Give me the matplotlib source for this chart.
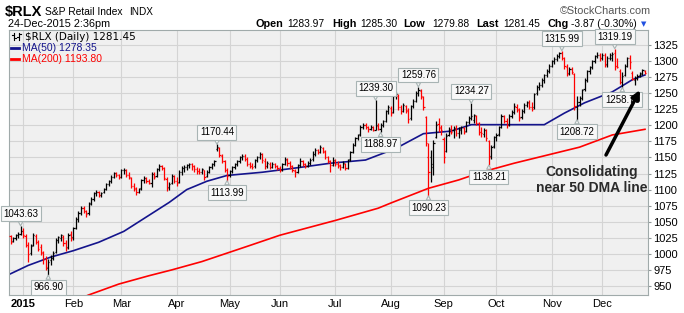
import numpy as np
import pandas as pd
import matplotlib
matplotlib.use('Agg')
import matplotlib.pyplot as plt

# trading days on the chart: 24-Dec-2014 .. 24-Dec-2015
HOLIDAYS = ['2014-12-25', '2015-01-01', '2015-01-19', '2015-02-16', '2015-04-03',
            '2015-05-25', '2015-07-03', '2015-09-07', '2015-11-26']
dates = pd.bdate_range('2014-12-24', '2015-12-24')
dates = dates[~dates.isin(pd.to_datetime(HOLIDAYS))]

# daily OHLC, grouped by month
opens = [
    1028, 1020, 1025, 1029, 1031,
    1036, 1028, 1014, 1002, 1014, 1028, 1019, 1010, 1001, 992, 978, 990, 994, 1003, 1022, 1025, 1026, 1017, 1010, 1031,
    1026, 1041, 1054, 1064, 1072, 1066, 1063, 1079, 1086, 1094, 1096, 1092, 1096, 1101, 1108, 1113, 1120, 1126, 1122,
    1120, 1130, 1130, 1123, 1118, 1106, 1101, 1097, 1102, 1115, 1118, 1114, 1110, 1125, 1121, 1132, 1137, 1133, 1117, 1104, 1110, 1121,
    1114, 1112, 1128, 1133, 1135, 1138, 1140, 1136, 1132, 1129, 1127, 1130, 1121, 1128, 1135, 1140, 1163, 1164, 1153, 1144, 1130,
    1122, 1129, 1135, 1140, 1144, 1150, 1152, 1147, 1140, 1137, 1136, 1146, 1151, 1155, 1145, 1137, 1140, 1135, 1140, 1137,
    1133, 1131, 1140, 1146, 1141, 1136, 1129, 1128, 1138, 1144, 1140, 1137, 1141, 1147, 1156, 1161, 1159, 1165, 1159, 1150, 1144, 1139,
    1145, 1140, 1137, 1135, 1140, 1134, 1147, 1159, 1170, 1180, 1186, 1198, 1200, 1197, 1194, 1197, 1193, 1199, 1195, 1201, 1207, 1222,
    1227, 1221, 1245, 1246, 1228, 1223, 1230, 1223, 1211, 1230, 1238, 1250, 1254, 1244, 1213, 1150, 1150, 1140, 1182, 1202, 1196,
    1178, 1160, 1185, 1190, 1192, 1195, 1188, 1193, 1196, 1191, 1205, 1212, 1209, 1214, 1203, 1190, 1187, 1193, 1175, 1152, 1168,
    1182, 1186, 1198, 1214, 1207, 1201, 1215, 1221, 1229, 1224, 1213, 1222, 1232, 1235, 1228, 1228, 1250, 1260, 1262, 1270, 1278, 1285,
    1292, 1300, 1303, 1308, 1312, 1304, 1291, 1281, 1288, 1280, 1228, 1237, 1243, 1256, 1271, 1284, 1290, 1300, 1308, 1310,
    1305, 1310, 1295, 1305, 1305, 1312, 1293, 1285, 1268, 1278, 1292, 1305, 1282, 1271, 1274, 1278, 1281, 1283.97,
]
highs = [
    1030, 1027, 1031, 1034, 1043.63,
    1040, 1031, 1018, 1015, 1032, 1031, 1022, 1016, 1005, 996, 992, 998, 1004, 1024, 1028, 1031, 1029, 1021, 1032, 1036,
    1042, 1057, 1066, 1074, 1075, 1069, 1080, 1088, 1096, 1099, 1098, 1097, 1103, 1110, 1115, 1122, 1128, 1128, 1125,
    1132, 1134, 1132, 1127, 1120, 1110, 1104, 1103, 1116, 1121, 1120, 1117, 1128, 1127, 1134, 1140, 1139, 1135, 1120, 1112, 1124, 1123,
    1120, 1130, 1136, 1138, 1140, 1142, 1141, 1139, 1135, 1133, 1134, 1131, 1130, 1137, 1142, 1146, 1170.44, 1166, 1156, 1146, 1133,
    1131, 1137, 1142, 1146, 1152, 1156, 1155, 1150, 1143, 1141, 1148, 1153, 1159, 1157, 1149, 1144, 1143, 1143, 1142, 1139,
    1136, 1142, 1151, 1149, 1144, 1138, 1132, 1140, 1149, 1146, 1142, 1144, 1149, 1160, 1164, 1163, 1170, 1167, 1162, 1153, 1146, 1150,
    1148, 1145, 1140, 1144, 1142, 1148, 1160, 1172, 1182, 1187, 1200, 1204, 1203, 1199, 1200, 1199, 1239.30, 1203, 1203, 1208, 1224, 1232,
    1230, 1247, 1252, 1248, 1232, 1234, 1232, 1227, 1232, 1241, 1253, 1259.76, 1256, 1246, 1215, 1172, 1161, 1177, 1206, 1211, 1200,
    1182, 1188, 1198, 1200, 1199, 1200, 1197, 1199, 1198, 1207, 1214, 1234.27, 1217, 1216, 1205, 1198, 1196, 1195, 1177, 1170, 1184,
    1188, 1199, 1217, 1216, 1212, 1217, 1224, 1235, 1233, 1227, 1225, 1235, 1238, 1240, 1236, 1250, 1263, 1268, 1273, 1280, 1288, 1295,
    1302, 1306, 1311, 1314, 1315.99, 1307, 1295, 1291, 1290, 1282, 1245, 1246, 1257, 1273, 1286, 1293, 1302, 1310, 1314, 1312,
    1313, 1312, 1308, 1313, 1314, 1319.19, 1304, 1287, 1283, 1295, 1307, 1309, 1284, 1277, 1280, 1283, 1287, 1285.30,
]
lows = [
    1016, 1018, 1022, 1025, 1029,
    1024, 1010, 988, 998, 1012, 1015, 1005, 998, 985, 975, 966.90, 982, 990, 1001, 1017, 1020, 1012, 1005, 1007, 1020,
    1022, 1038, 1050, 1060, 1064, 1058, 1061, 1076, 1083, 1090, 1089, 1088, 1094, 1099, 1105, 1111, 1118, 1119, 1116,
    1118, 1125, 1120, 1116, 1102, 1098, 1092, 1094, 1100, 1111, 1111, 1108, 1104, 1117, 1119, 1129, 1130, 1115, 1098, 1100, 1108, 1110,
    1106, 1110, 1122, 1128, 1131, 1134, 1130, 1128, 1125, 1124, 1125, 1115, 1119, 1126, 1132, 1137, 1160, 1150, 1141, 1128, 1113.99,
    1119, 1126, 1132, 1137, 1141, 1146, 1144, 1136, 1134, 1132, 1134, 1143, 1148, 1142, 1132, 1134, 1132, 1133, 1134, 1130,
    1127, 1129, 1138, 1137, 1132, 1128, 1120, 1126, 1135, 1137, 1133, 1135, 1139, 1145, 1153, 1155, 1157, 1157, 1148, 1141, 1128, 1136,
    1136, 1134, 1130, 1133, 1130, 1132, 1145, 1157, 1168, 1177, 1184, 1195, 1194, 1190, 1192, 1191, 1192, 1192, 1188.97, 1198, 1205, 1218,
    1215, 1219, 1241, 1224, 1218, 1220, 1219, 1203, 1209, 1227, 1236, 1246, 1241, 1224, 1168, 1090.23, 1112, 1123, 1180, 1190, 1185,
    1142, 1158, 1183, 1186, 1180, 1184, 1180, 1186, 1186, 1189, 1202, 1208, 1203, 1201, 1185, 1182, 1182, 1175, 1138.21, 1148, 1165,
    1176, 1183, 1196, 1203, 1196, 1199, 1211, 1218, 1221, 1207, 1210, 1219, 1228, 1225, 1222, 1226, 1247, 1255, 1259, 1266, 1275, 1282,
    1290, 1296, 1300, 1304, 1302, 1288, 1276, 1279, 1280, 1224, 1208.72, 1230, 1240, 1254, 1268, 1280, 1287, 1297, 1304, 1300,
    1302, 1290, 1291, 1301, 1300, 1286, 1289, 1265, 1258.70, 1276, 1290, 1288, 1270, 1263, 1270, 1275, 1279, 1279.88,
]
closes = [
    1019, 1025, 1029, 1031, 1036,
    1030, 1014, 1000, 1012, 1030, 1019, 1008, 1003, 992, 980, 988, 994, 1001, 1022, 1026, 1029, 1017, 1009, 1030, 1024,
    1040, 1055, 1064, 1072, 1067, 1062, 1078, 1085, 1094, 1096, 1092, 1095, 1101, 1108, 1113, 1120, 1126, 1122, 1119,
    1130, 1131, 1123, 1119, 1106, 1102, 1096, 1101, 1115, 1118, 1114, 1111, 1125, 1120, 1132, 1137, 1134, 1118, 1103, 1109, 1121, 1113,
    1111, 1128, 1133, 1135, 1138, 1140, 1136, 1132, 1129, 1127, 1132, 1120, 1127, 1135, 1140, 1144, 1166, 1154, 1145, 1131, 1121,
    1129, 1135, 1140, 1144, 1150, 1153, 1147, 1140, 1137, 1135, 1146, 1151, 1156, 1146, 1137, 1141, 1135, 1140, 1137, 1133,
    1130, 1140, 1147, 1141, 1136, 1130, 1127, 1138, 1144, 1140, 1136, 1141, 1146, 1156, 1161, 1158, 1166, 1160, 1151, 1145, 1138, 1146,
    1140, 1138, 1135, 1141, 1133, 1146, 1158, 1170, 1180, 1185, 1198, 1201, 1197, 1194, 1198, 1192, 1200, 1195, 1201, 1206, 1222, 1228,
    1219, 1245, 1248, 1228, 1222, 1231, 1224, 1210, 1230, 1238, 1250, 1255, 1245, 1228, 1172, 1128, 1135, 1172, 1201, 1197, 1192,
    1150, 1184, 1194, 1189, 1196, 1188, 1194, 1197, 1190, 1205, 1212, 1215, 1216, 1204, 1190, 1188, 1193, 1180, 1150, 1166, 1182,
    1185, 1197, 1215, 1207, 1201, 1215, 1221, 1230, 1225, 1212, 1222, 1232, 1236, 1228, 1226, 1248, 1260, 1262, 1270, 1278, 1285, 1292,
    1300, 1303, 1308, 1312, 1305, 1292, 1280, 1288, 1283, 1230, 1236, 1242, 1255, 1270, 1284, 1290, 1300, 1308, 1310, 1304,
    1310, 1294, 1305, 1310, 1311, 1292, 1290, 1268, 1276, 1292, 1305, 1298, 1272, 1274, 1277, 1280, 1285.32, 1281.45,
]

# moving averages, sampled along the drawn lines (trading-day number, value)
ma50_day = [0, 7, 16, 25, 35, 45, 55, 63, 70, 78, 86, 100, 114, 127, 141, 153, 164, 175, 183, 212, 220, 228, 239, 247, 252]
ma50_val = [969, 982, 995, 1005, 1018, 1035, 1060, 1080, 1100, 1113, 1122, 1127, 1134, 1141, 1146, 1164, 1187, 1191,
            1201, 1201, 1219, 1235, 1252, 1271, 1278.35]
ma200_day = [28, 31, 43, 55, 64, 76, 95, 107, 129, 146, 151, 166, 178, 187, 200, 226, 239, 252]
ma200_val = [931, 936, 953, 966, 975, 988, 1013, 1029, 1052, 1071, 1079, 1102, 1115, 1127, 1141, 1166, 1185, 1193.80]

# labelled highs / lows
ann_day = [4, 15, 82, 86, 145, 147, 162, 166, 183, 190, 219, 225, 240, 243]
ann_side = ['up', 'down', 'up', 'down', 'up', 'down', 'up', 'down', 'up', 'down', 'up', 'down', 'up', 'down']

month_names = ['2015', 'Feb', 'Mar', 'Apr', 'May', 'Jun', 'Jul', 'Aug', 'Sep', 'Oct', 'Nov', 'Dec']
y_ticks = list(range(950, 1326, 25))

assert len(dates) == len(closes) == len(opens) == len(highs) == len(lows)

W, H = 684, 313
FONT = ['Liberation Sans', 'DejaVu Sans']
plt.rcParams['font.family'] = FONT

fig = plt.figure(figsize=(W / 100, H / 100), dpi=100)
ax = fig.add_axes([9 / W, 1 - 295 / H, 639 / W, 265 / H])
ax.set_facecolor('#f0f0f0')

o = np.array(opens)
h = np.array(highs)
l = np.array(lows)
c = np.array(closes)
x = np.arange(len(c))
prev = np.r_[o[0], c[:-1]]
cols = np.where(c < prev, '#ff0000', '#000000')

ax.vlines(x, l, h, colors=cols, lw=0.9, zorder=3)
ax.hlines(o, x - 0.45, x, colors=cols, lw=0.9, zorder=3)
ax.hlines(c, x, x + 0.45, colors=cols, lw=0.9, zorder=3)

ax.plot(ma50_day, ma50_val, color='#14148c', lw=1.2, zorder=2)
ax.plot(ma200_day, ma200_val, color='#ff0000', lw=1.2, zorder=2)

for d, side in zip(ann_day, ann_side):
    v = h[d] if side == 'up' else l[d]
    up = side == 'up'
    ax.annotate(f'{v:.2f}', xy=(d, v), xytext=(0, 5 if up else -5), textcoords='offset points',
                ha='center', va='bottom' if up else 'top', fontsize=7, color='black', zorder=5,
                bbox=dict(boxstyle='square,pad=0.25', fc='#f8f8f8', ec='#a8b4b4', lw=0.8),
                arrowprops=dict(arrowstyle='wedge,tail_width=0.45,shrink_factor=0.5',
                                fc='#f8f8f8', ec='#a8b4b4', lw=0.8, shrinkA=0, shrinkB=0))

# axes, grid
month_start = [i for i in range(len(dates)) if dates[i].year == 2015 and
               (i == 0 or dates[i].month != dates[i - 1].month)]
ax.set_xticks(month_start)
ax.set_xticklabels(month_names)
ax.get_xticklabels()[0].set_fontweight('bold')
ax.set_yticks(y_ticks)
ax.yaxis.tick_right()
ax.set_xlim(-0.6, 253.2)
ax.set_ylim(936, 1348.3)
ax.grid(True, color='#d4d4d4', lw=0.8, zorder=0)
ax.set_axisbelow(True)
ax.tick_params(axis='x', length=0, labelsize=8, pad=3)
ax.tick_params(axis='y', direction='out', length=2.5, width=0.8, color='#909898', labelsize=8, pad=1.5)
for s in ax.spines.values():
    s.set_color('#a0aaaa')
    s.set_linewidth(0.8)


def px(xp, yp):
    return xp / W, 1 - yp / H


def ftext(xp, yp, s, **kw):
    fig.text(*px(xp, yp), s, va='baseline', **kw)


def fline(x1, x2, y1, y2, **kw):
    fig.add_artist(plt.Line2D([x1 / W, x2 / W], [1 - y1 / H, 1 - y2 / H], transform=fig.transFigure, **kw))


# header
ftext(5, 16, '$RLX', fontsize=10.5, fontweight='bold')
ftext(45, 15, 'S&P Retail Index', fontsize=7.4)
ftext(129, 15, 'INDX', fontsize=7.2)
ftext(560, 14, '\u00a9StockCharts.com', fontsize=7.8, color='#555555')
ftext(8, 27, '24-Dec-2015 2:36pm', fontsize=7.8)
for xp, s, bold in [(255, 'Open', True), (287, '1283.97', False), (332, 'High', True), (360, '1285.30', False),
                    (403, 'Low', True), (432, '1279.88', False), (476, 'Last', True), (503, '1281.45', False),
                    (547, 'Chg', True), (571, '-3.87 (-0.30%)', False)]:
    ftext(xp, 27, s, fontsize=7.8 if bold else 7.4, fontweight='bold' if bold else 'normal')
ftext(641, 26, '\u25bc', fontsize=5, color='#2050e0', family='DejaVu Sans')

# legend inside the panel
for xb in (14, 19):
    fline(xb, xb, 33, 40, color='black', lw=0.8)
fline(12, 14, 35, 35, color='black', lw=0.8)
fline(14, 16, 38, 38, color='black', lw=0.8)
fline(17, 19, 37, 37, color='black', lw=0.8)
fline(19, 21, 34, 34, color='black', lw=0.8)
ftext(25, 40, '$RLX (Daily) 1281.45', fontsize=7.5, family='DejaVu Sans')
fline(11, 19, 48, 48, color='#14148c', lw=2)
ftext(22, 51, 'MA(50) 1278.35', fontsize=7.5, color='#14148c')
fline(11, 19, 59, 59, color='#ff0000', lw=2)
ftext(22, 62, 'MA(200) 1193.80', fontsize=7.5, color='#ff0000')

# commentary
ax.annotate('', xy=(640, H - 90), xytext=(606, H - 155), xycoords='figure pixels', textcoords='figure pixels',
            arrowprops=dict(arrowstyle='-|>', lw=2.5, color='black', mutation_scale=12, shrinkA=0, shrinkB=0),
            zorder=6)
fig.text(*px(592, 180), 'Consolidating\nnear 50 DMA line', ha='center', va='center', fontsize=10,
         fontweight='bold', color='#2a2a2a', linespacing=1.15)

fig.savefig('out.png', dpi=100)
